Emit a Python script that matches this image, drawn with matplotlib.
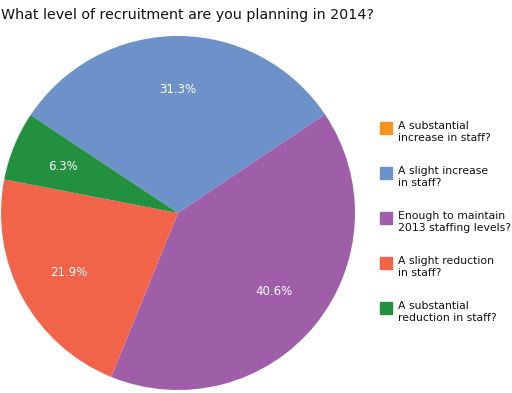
import numpy as np
import matplotlib
matplotlib.use("Agg")
import matplotlib.pyplot as plt
from matplotlib.patches import Rectangle

categories = [
    "A substantial\nincrease in staff?",
    "A slight increase\nin staff?",
    "Enough to maintain\n2013 staffing levels?",
    "A slight reduction\nin staff?",
    "A substantial\nreduction in staff?",
]
percents = [0.0, 31.3, 40.6, 21.9, 6.3]
colors = ["#f7941d", "#6d91c9", "#9e5fa8", "#f2644a", "#22903f"]
title = "What level of recruitment are you planning in 2014?"

plt.rcParams["font.family"] = "DejaVu Sans"
W, H = 512, 393
fig = plt.figure(figsize=(W / 100, H / 100), dpi=100)
fig.patch.set_facecolor("white")

cx, cy, r = 178, 213, 177
ax = fig.add_axes([(cx - r) / W, (H - cy - r) / H, 2 * r / W, 2 * r / H])

wedges, texts = ax.pie(percents, colors=colors, startangle=146.4,
                       counterclock=False, radius=1,
                       wedgeprops=dict(linewidth=0))
for w, p in zip(wedges, percents):
    if p <= 0:
        continue
    # label at 0.7 of the radius, middle of the wedge
    ang = np.deg2rad((w.theta1 + w.theta2) / 2)
    ax.text(0.7 * np.cos(ang), 0.7 * np.sin(ang), f"{p:.1f}%", color="white",
            fontsize=8.5, ha="center", va="center", fontweight="medium")
ax.set_xlim(-1, 1)
ax.set_ylim(-1, 1)
ax.set_aspect("equal")

fig.text(1 / W, 1 - 19 / H, title, fontsize=10.3, color="#111111",
         ha="left", va="baseline", fontweight="medium")

# legend, drawn by hand so squares sit on the first text line
for i, (lab, col) in enumerate(zip(categories, colors)):
    top = 122 + 45 * i
    fig.patches.append(Rectangle((380 / W, 1 - (top + 12) / H), 12 / W, 12 / H,
                                 transform=fig.transFigure, color=col))
    fig.text(398 / W, 1 - (top - 1) / H, lab, fontsize=7.8, color="#111111",
             ha="left", va="top", linespacing=1.25)

fig.savefig("out.png", dpi=100, facecolor="white")
